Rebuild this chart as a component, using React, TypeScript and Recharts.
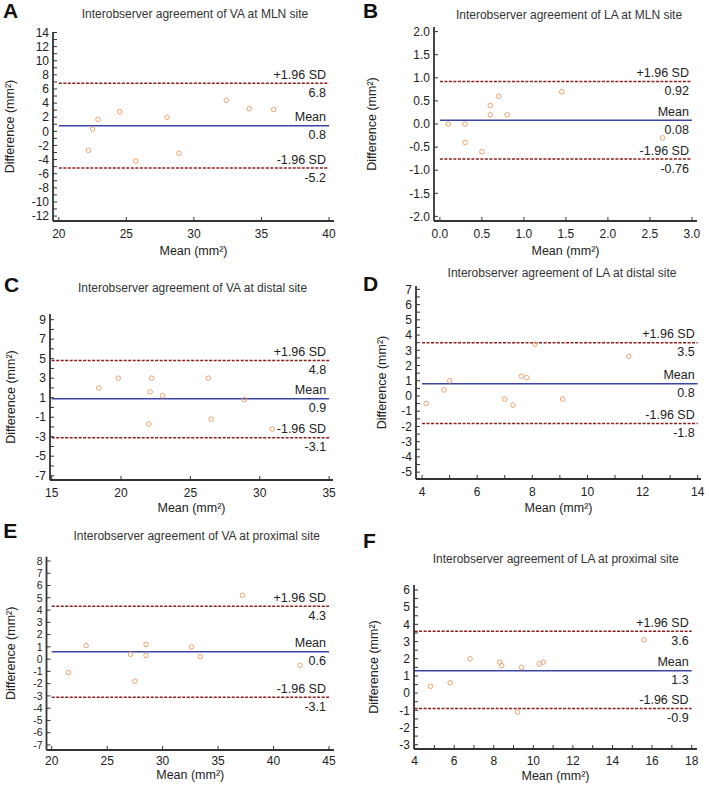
import { ScatterChart, Scatter, XAxis, YAxis, ReferenceLine, Label } from 'recharts';

// A: VA at MLN site
const vaMlnMean = [22.2, 22.5, 22.9, 24.5, 25.7, 28.0, 28.9, 32.4, 34.1, 35.9];
const vaMlnDiff = [-2.7, 0.3, 1.7, 2.8, -4.2, 2.0, -3.1, 4.4, 3.2, 3.1];
const vaMlnLimits = [6.8, 0.8, -5.2]; // +1.96 SD, mean, -1.96 SD
const vaMlnXTicks = [20, 25, 30, 35, 40];
const vaMlnYTicks = [-12, -10, -8, -6, -4, -2, 0, 2, 4, 6, 8, 10, 12, 14];

// B: LA at MLN site
const laMlnMean = [0.1, 0.3, 0.3, 0.5, 0.6, 0.6, 0.7, 0.8, 1.45, 2.65];
const laMlnDiff = [0.0, 0.0, -0.4, -0.6, 0.4, 0.2, 0.6, 0.2, 0.7, -0.3];
const laMlnLimits = [0.92, 0.08, -0.76];
const laMlnXTicks = [0, 0.5, 1, 1.5, 2, 2.5, 3];
const laMlnYTicks = [-2, -1.5, -1, -0.5, 0, 0.5, 1, 1.5, 2];

// C: VA at distal site
const vaDistMean = [18.4, 19.8, 22.2, 22.1, 23.0, 22.0, 26.3, 26.5, 28.9, 30.9];
const vaDistDiff = [2.0, 3.0, 3.0, 1.6, 1.2, -1.7, 3.0, -1.2, 0.8, -2.2];
const vaDistLimits = [4.8, 0.9, -3.1];
const vaDistXTicks = [15, 20, 25, 30, 35];
const vaDistYTicks = [-7, -5, -3, -1, 1, 3, 5, 7, 9];

// D: LA at distal site
const laDistMean = [4.15, 4.8, 5.0, 7.0, 7.3, 7.6, 7.8, 8.1, 9.1, 11.5];
const laDistDiff = [-0.5, 0.4, 1.0, -0.2, -0.6, 1.3, 1.2, 3.4, -0.2, 2.6];
const laDistLimits = [3.5, 0.8, -1.8];
const laDistXTicks = [4, 6, 8, 10, 12, 14];
const laDistYTicks = [-5, -4, -3, -2, -1, 0, 1, 2, 3, 4, 5, 6, 7];

// E: VA at proximal site
const vaProxMean = [21.5, 23.1, 27.1, 27.5, 28.5, 28.5, 32.6, 33.4, 37.2, 42.4];
const vaProxDiff = [-1.1, 1.1, 0.4, -1.8, 1.2, 0.3, 1.0, 0.2, 5.2, -0.5];
const vaProxLimits = [4.3, 0.6, -3.1];
const vaProxXTicks = [20, 25, 30, 35, 40, 45];
const vaProxYTicks = [-7, -6, -5, -4, -3, -2, -1, 0, 1, 2, 3, 4, 5, 6, 7, 8];

// F: LA at proximal site
const laProxMean = [4.8, 5.8, 6.8, 8.3, 8.4, 9.4, 9.2, 10.3, 10.5, 15.6];
const laProxDiff = [0.4, 0.6, 2.0, 1.8, 1.6, 1.5, -1.1, 1.7, 1.8, 3.1];
const laProxLimits = [3.6, 1.3, -0.9];
const laProxXTicks = [4, 6, 8, 10, 12, 14, 16, 18];
const laProxYTicks = [-3, -2, -1, 0, 1, 2, 3, 4, 5, 6];

const limitNames = ['+1.96 SD', 'Mean', '-1.96 SD'];

const TEXT = '#222';
const AXIS = '#333';

// midpoints between major ticks -> unlabeled minor ticks
const withMinor = (major: number[]) => {
  const out: number[] = [];
  major.forEach((v, i) => {
    out.push(v);
    if (i < major.length - 1) out.push((v + major[i + 1]) / 2);
  });
  return out;
};

const labelFmt = (major: number[], digits: number) => (v: number) =>
  major.some((m) => Math.abs(m - v) < 1e-9) ? v.toFixed(digits) : '';

const panels = [
  {
    letter: 'A', title: 'Interobserver agreement of VA at MLN site',
    mean: vaMlnMean, diff: vaMlnDiff, limits: vaMlnLimits,
    xTicks: vaMlnXTicks, yTicks: vaMlnYTicks, xMinor: false, yMinor: true, digits: 0,
    box: { left: 0, top: 0, width: 354, height: 260 }, yAxisW: 53, mTop: 32, mRight: 20, xAxisH: 39,
    xDomain: [19.57, 40.37], yDomain: [-12.7, 14.07], xTickGap: 12, xLabOff: 5.5, yLabOff: 10, yTickFont: 12,
    letterPos: [3, 18.3], titlePos: [195, 18.3],
  },
  {
    letter: 'B', title: 'Interobserver agreement of LA at MLN site',
    mean: laMlnMean, diff: laMlnDiff, limits: laMlnLimits,
    xTicks: laMlnXTicks, yTicks: laMlnYTicks, xMinor: false, yMinor: false, digits: 1,
    box: { left: 354, top: 0, width: 355, height: 260 }, yAxisW: 80, mTop: 27, mRight: 12, xAxisH: 39,
    xDomain: [-0.07, 3.06], yDomain: [-2.1, 2.1], xTickGap: 12, xLabOff: 5.4, yLabOff: 18, yTickFont: 12,
    letterPos: [363, 17.5], titlePos: [569, 19.3],
  },
  {
    letter: 'C', title: 'Interobserver agreement of VA at distal site',
    mean: vaDistMean, diff: vaDistDiff, limits: vaDistLimits,
    xTicks: vaDistXTicks, yTicks: vaDistYTicks, xMinor: false, yMinor: true, digits: 0,
    box: { left: 0, top: 260, width: 354, height: 265 }, yAxisW: 50, mTop: 54, mRight: 21, xAxisH: 45,
    xDomain: [14.88, 35.28], yDomain: [-7.44, 9.58], xTickGap: 12, xLabOff: 13, yLabOff: 10.5, yTickFont: 12,
    letterPos: [4, 291.7], titlePos: [192.5, 292.3],
  },
  {
    letter: 'D', title: 'Interobserver agreement of LA at distal site',
    mean: laDistMean, diff: laDistDiff, limits: laDistLimits,
    xTicks: laDistXTicks, yTicks: laDistYTicks, xMinor: true, yMinor: true, digits: 0,
    box: { left: 354, top: 260, width: 355, height: 265 }, yAxisW: 62, mTop: 26, mRight: 8, xAxisH: 46,
    xDomain: [3.78, 14.12], yDomain: [-5.45, 7.22], xTickGap: 12, xLabOff: 13, yLabOff: 27.5, yTickFont: 12,
    letterPos: [363, 290.7], titlePos: [562, 276.7],
  },
  {
    letter: 'E', title: 'Interobserver agreement of VA at proximal site',
    mean: vaProxMean, diff: vaProxDiff, limits: vaProxLimits,
    xTicks: vaProxXTicks, yTicks: vaProxYTicks, xMinor: false, yMinor: false, digits: 0,
    box: { left: 0, top: 520, width: 354, height: 270 }, yAxisW: 46.5, mTop: 36.7, mRight: 20, xAxisH: 40,
    xDomain: [19.53, 45.45], yDomain: [-7.41, 8.35], xTickGap: 10, xLabOff: 11.5, yLabOff: 11, yTickFont: 10.5,
    letterPos: [3.3, 538.3], titlePos: [196.7, 540],
  },
  {
    letter: 'F', title: 'Interobserver agreement of LA at proximal site',
    mean: laProxMean, diff: laProxDiff, limits: laProxLimits,
    xTicks: laProxXTicks, yTicks: laProxYTicks, xMinor: true, yMinor: true, digits: 0,
    box: { left: 354, top: 520, width: 355, height: 270 }, yAxisW: 60, mTop: 65, mRight: 12, xAxisH: 41,
    xDomain: [3.97, 18.27], yDomain: [-3.25, 6.29], xTickGap: 11, xLabOff: 10.5, yLabOff: 19.5, yTickFont: 12,
    letterPos: [363, 548.3], titlePos: [555.7, 563.3],
  },
];

const ring = (p: any) => (
  <circle cx={p.cx} cy={p.cy} r={2.3} fill="none" stroke="#F0A26C" strokeWidth={1} />
);

const limitLabel = (name: string, value: number) => (props: any) => {
  const { x, y, width } = props.viewBox;
  const right = x + width - 3;
  return (
    <g>
      <text x={right} y={y - 4.5} textAnchor="end" fontSize={12.5} fill={TEXT}>{name}</text>
      <text x={right} y={y + 13.7} textAnchor="end" fontSize={12.5} fill={TEXT}>{String(value)}</text>
    </g>
  );
};

function BlandAltman({ p }: { p: (typeof panels)[number] }) {
  const points = p.mean.map((m, i) => ({ x: m, y: p.diff[i] }));
  const xFirst = p.xTicks[0];
  const xLast = p.xTicks[p.xTicks.length - 1];
  return (
    <div style={{ position: 'absolute', left: p.box.left, top: p.box.top }}>
      <ScatterChart
        width={p.box.width}
        height={p.box.height}
        margin={{ top: p.mTop, right: p.mRight, bottom: 0, left: 0 }}
      >
        <XAxis
          type="number"
          dataKey="x"
          domain={p.xDomain}
          allowDataOverflow
          ticks={p.xMinor ? withMinor(p.xTicks) : p.xTicks}
          tickFormatter={labelFmt(p.xTicks, p.digits)}
          interval={0}
          height={p.xAxisH}
          axisLine={{ stroke: AXIS, strokeWidth: 1.8 }}
          tickLine={{ stroke: AXIS }}
          tickSize={-4}
          tickMargin={p.xTickGap}
          tick={{ fontSize: 12, fill: TEXT }}
        >
          <Label value="Mean (mm²)" position="insideBottom" offset={p.xLabOff} fontSize={12.5} fill={TEXT} />
        </XAxis>
        <YAxis
          type="number"
          dataKey="y"
          domain={p.yDomain}
          allowDataOverflow
          ticks={p.yMinor ? withMinor(p.yTicks) : p.yTicks}
          tickFormatter={labelFmt(p.yTicks, p.digits)}
          interval={0}
          width={p.yAxisW}
          axisLine={{ stroke: AXIS, strokeWidth: 1.8 }}
          tickLine={{ stroke: AXIS }}
          tickSize={-4}
          tickMargin={8}
          tick={{ fontSize: p.yTickFont, fill: TEXT }}
        >
          <Label
            value="Difference (mm²)"
            angle={-90}
            position="insideLeft"
            offset={p.yLabOff}
            fontSize={12.5}
            fill={TEXT}
            style={{ textAnchor: 'middle' }}
          />
        </YAxis>
        {p.limits.map((v, i) => (
          <ReferenceLine
            key={i}
            segment={[{ x: xFirst, y: v }, { x: xLast, y: v }]}
            stroke={i === 1 ? '#3A45A6' : '#8E1E1E'}
            strokeWidth={1.5}
            strokeDasharray={i === 1 ? undefined : '3 1.5'}
            label={limitLabel(limitNames[i], v)}
          />
        ))}
        <Scatter data={points} shape={ring} isAnimationActive={false} />
      </ScatterChart>
    </div>
  );
}

export default function App() {
  return (
    <div
      style={{
        position: 'absolute',
        left: 0,
        top: 0,
        width: 709,
        height: 790,
        background: '#fff',
        fontFamily: '"Liberation Sans", Arial, sans-serif',
      }}
    >
      {panels.map((p) => (
        <BlandAltman key={p.letter} p={p} />
      ))}
      {/* panel letters and titles */}
      <svg width={709} height={790} style={{ position: 'absolute', left: 0, top: 0, pointerEvents: 'none' }}>
        {panels.map((p) => (
          <g key={p.letter}>
            <text x={p.letterPos[0]} y={p.letterPos[1]} fontSize={21} fontWeight="bold" fill="#111">
              {p.letter}
            </text>
            <text x={p.titlePos[0]} y={p.titlePos[1]} fontSize={12} textAnchor="middle" fill="#333">
              {p.title}
            </text>
          </g>
        ))}
      </svg>
    </div>
  );
}
